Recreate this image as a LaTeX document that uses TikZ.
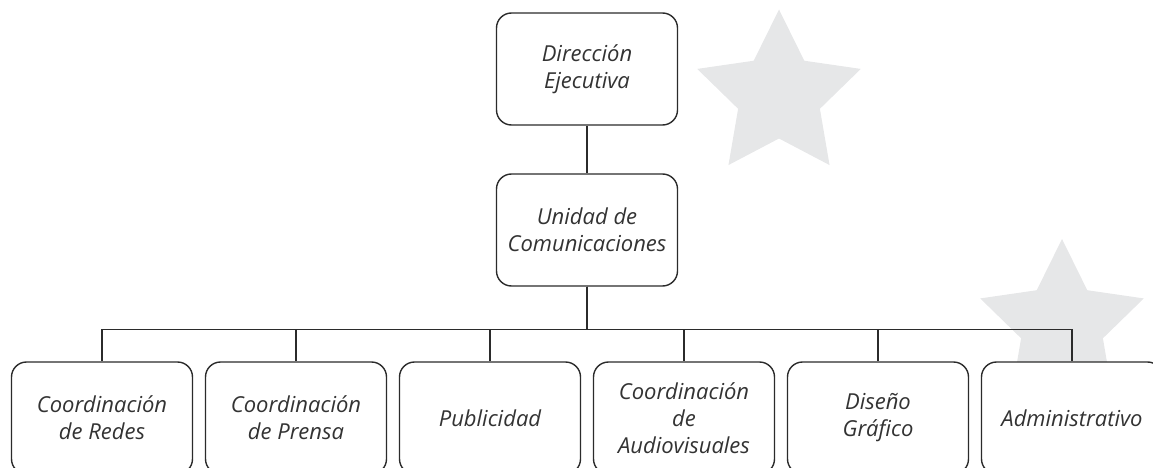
\documentclass[tikz,border=0pt]{standalone}
\usepackage{fontspec}
\setmainfont{Open Sans}
\definecolor{estrella}{HTML}{E6E7E8}
\definecolor{linea}{HTML}{2B2B2B}
\definecolor{texto}{HTML}{333333}
\begin{document}
\begin{tikzpicture}[x=1pt,y=-1pt,
    caja/.style={draw=linea, line width=1.4pt, fill=white, rounded corners=15pt,
        minimum width=181pt, minimum height=112pt, align=center, text=texto,
        font=\fontsize{22}{27}\selectfont\itshape},
    rama/.style={draw=linea, line width=1.3pt}]
\useasboundingbox (0,0) rectangle (1153,468);

% estrellas de fondo
\foreach \cx/\cy in {779/95.5,1062/325}
{
    \fill [estrella, shift={(\cx,\cy)}] (270:86)
      \foreach \a in {0,72,...,288}{ -- (270+\a:86) -- (306+\a:43)} -- cycle;
}

\node [caja] (dir) at (587,69) {Dirección\\Ejecutiva};
\node [caja] (uni) at (587,230) {Unidad de\\Comunicaciones};

\node [caja] (c1) at (102,418) {Coordinación\\de Redes};
\node [caja] (c2) at (296,418) {Coordinación\\de Prensa};
\node [caja] (c3) at (490,418) {Publicidad};
\node [caja] (c4) at (684,418) {Coordinación\\de\\Audiovisuales};
\node [caja] (c5) at (878,418) {Diseño\\Gráfico};
\node [caja] (c6) at (1072,418) {Administrativo};

\draw [rama] (dir) -- (uni);
\foreach \i in {1,...,6}
{
    \draw [rama] (uni.south) -- ++(0,43) -| (c\i.north);
}

\end{tikzpicture}
\end{document}
